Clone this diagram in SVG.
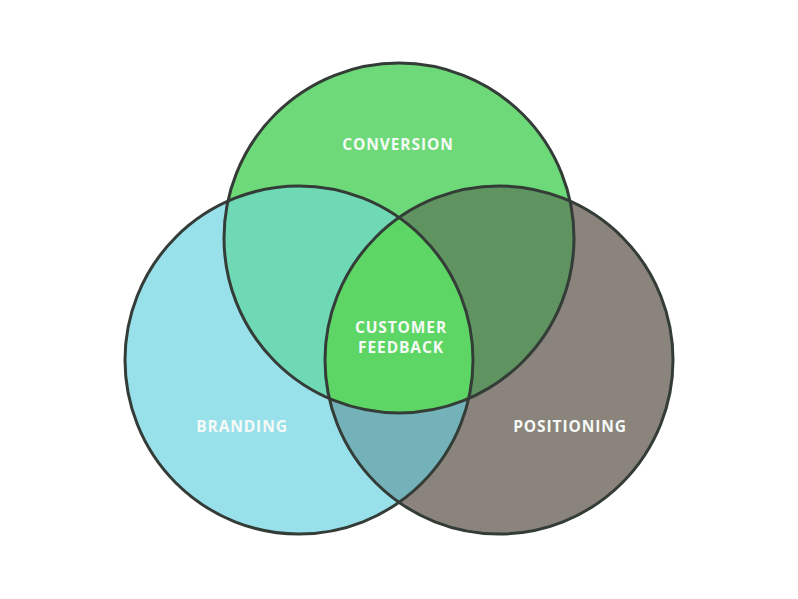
<svg xmlns="http://www.w3.org/2000/svg" width="798" height="599" viewBox="0 0 798 599">
<style>
.lbl{font-family:"Open Sans","Liberation Sans",sans-serif;font-weight:700;font-size:15.5px;letter-spacing:0.9px;fill:#f6faf6;text-anchor:middle}
.ring{fill:none;stroke:#343c37;stroke-width:3}
</style>
<defs>
<clipPath id="cT"><circle cx="399" cy="238" r="175"/></clipPath>
<clipPath id="cL"><circle cx="299" cy="360" r="174"/></clipPath>
<clipPath id="cR"><circle cx="499" cy="360" r="174"/></clipPath>
</defs>
<rect width="798" height="599" fill="#ffffff"/>
<g id="fills">
<circle cx="299" cy="360" r="174" fill="#98e1eb"/>
<circle cx="499" cy="360" r="174" fill="#8a847c"/>
<circle cx="399" cy="238" r="175" fill="#6ed978"/>
<circle cx="299" cy="360" r="174" fill="#6fd8b5" clip-path="url(#cT)"/>
<circle cx="499" cy="360" r="174" fill="#5f9461" clip-path="url(#cT)"/>
<circle cx="299" cy="360" r="174" fill="#74b2b9" clip-path="url(#cR)"/>
<g clip-path="url(#cT)"><circle cx="299" cy="360" r="174" fill="#5ed665" clip-path="url(#cR)"/></g>
</g>
<g id="conversion"><circle class="ring" cx="399" cy="238" r="175"/><text class="lbl" x="398" y="150">CONVERSION</text></g>
<g id="branding"><circle class="ring" cx="299" cy="360" r="174"/><text class="lbl" x="242" y="432">BRANDING</text></g>
<g id="positioning"><circle class="ring" cx="499" cy="360" r="174"/><text class="lbl" x="570" y="432">POSITIONING</text></g>
<g id="feedback"><text class="lbl" x="401" y="333">CUSTOMER</text><text class="lbl" x="401" y="353">FEEDBACK</text></g>
<g id="connectors"/>
</svg>
